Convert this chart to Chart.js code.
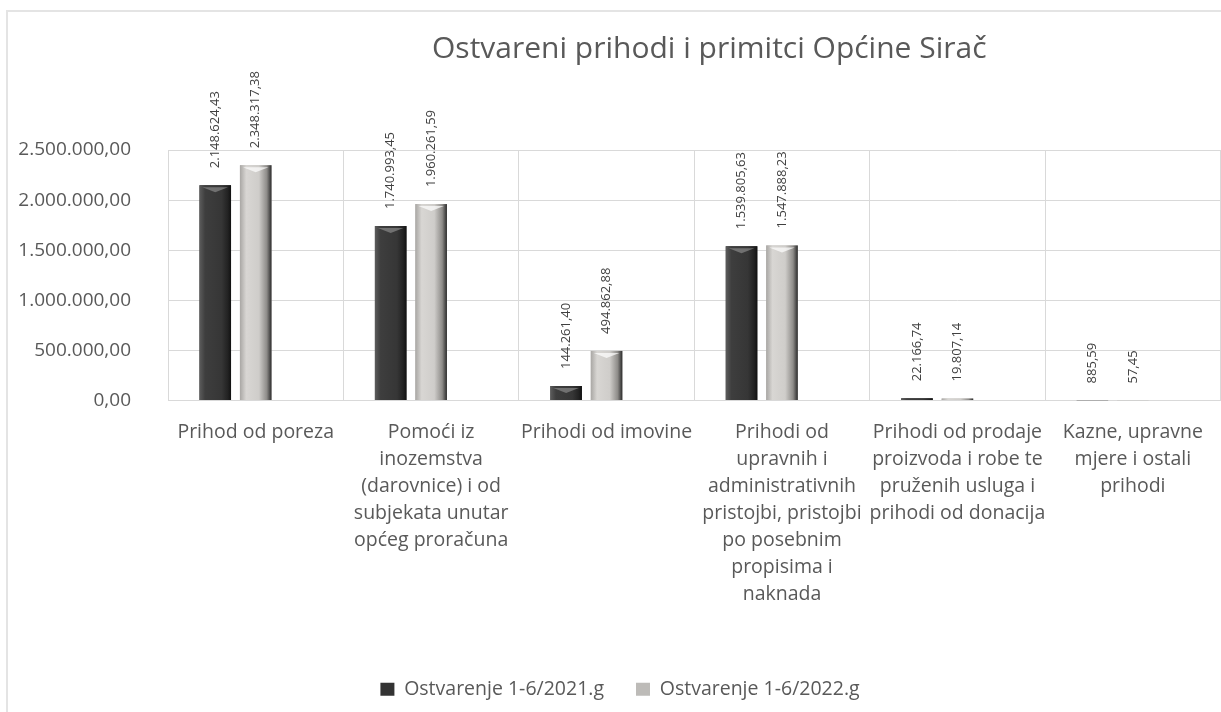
<!DOCTYPE html>
<html>
<head>
<meta charset="utf-8">
<script src="https://cdn.jsdelivr.net/npm/chart.js@4.4.0/dist/chart.umd.min.js"></script>
<style>
  body { margin: 0; background: #fff; overflow: hidden; }
  .frame { position: absolute; left: 6px; top: 10px; width: 1260px; height: 760px; border: 2px solid #e4e4e4; }
  #myChart { position: absolute; left: 0; top: 0; }
</style>
</head>
<body>
<div class="frame"></div>
<canvas id="myChart" width="1221" height="712"></canvas>
<script>
const title = 'Ostvareni prihodi i primitci Općine Sirač'
const categories = [
    'Prihod od poreza',
    ['Pomoći iz', 'inozemstva', '(darovnice) i od', 'subjekata unutar', 'općeg proračuna'],
    'Prihodi od imovine',
    ['Prihodi od', 'upravnih i', 'administrativnih', 'pristojbi, pristojbi', 'po posebnim', 'propisima i', 'naknada'],
    ['Prihodi od prodaje', 'proizvoda i robe te', 'pruženih usluga i', 'prihodi od donacija'],
    ['Kazne, upravne', 'mjere i ostali', 'prihodi']
]
const seriesNames = ['Ostvarenje 1-6/2021.g', 'Ostvarenje 1-6/2022.g']
const values2021 = [2148624.43, 1740993.45, 144261.40, 1539805.63, 22166.74, 885.59]
const values2022 = [2348317.38, 1960261.59, 494862.88, 1547888.23, 19807.14, 57.45]
const yTicks = [0, 500000, 1000000, 1500000, 2000000, 2500000]

const textColor = '#595959'
const gridColor = '#d9d9d9'

//Formata número no estilo hr-HR (2.500.000,00)
function fmt(v) {
    const parts = Number(v).toFixed(2).split('.')
    return parts[0].replace(/\B(?=(\d{3})+(?!\d))/g, '.') + ',' + parts[1]
}

//Título desenhado sobre a área do gráfico
const titlePlugin = {
    id: 'titlePlugin',
    afterDraw(chart) {
        const ctx = chart.ctx
        const a = chart.chartArea
        ctx.save()
        ctx.font = '30px "Open Sans"'
        ctx.fillStyle = textColor
        ctx.textAlign = 'center'
        ctx.textBaseline = 'middle'
        ctx.fillText(title, (a.left + a.right) / 2 + 15, 49)
        ctx.restore()
    }
}

//Desloca um pouco a legenda para a direita (como no original)
const legendShift = {
    id: 'legendShift',
    afterLayout(chart) {
        if (chart.legend) chart.legend.left += 19
    }
}

//Efeito de cilindro nas barras
const shadePlugin = {
    id: 'shadePlugin',
    afterDatasetDraw(chart, args) {
        const i = args.index
        if (i > 1) return
        const ctx = chart.ctx
        const stops = i === 0
            ? [[0, '#5c5c5c'], [0.18, '#3e3e3e'], [0.7, '#363636'], [0.9, '#222'], [1, '#111']]
            : [[0, '#a9a7a4'], [0.2, '#d8d6d3'], [0.6, '#cfcdca'], [0.85, '#8e8c89'], [1, '#2b2b2b']]
        args.meta.data.forEach(el => {
            const p = el.getProps(['x', 'y', 'base', 'width'], true)
            const h = p.base - p.y
            if (h < 1) return
            const left = p.x - p.width / 2
            const g = ctx.createLinearGradient(left, 0, left + p.width, 0)
            stops.forEach(s => g.addColorStop(s[0], s[1]))
            ctx.save()
            ctx.fillStyle = g
            ctx.fillRect(left, p.y, p.width, h)
            if (h > 8) {
                ctx.fillStyle = i === 0 ? 'rgba(150,150,150,0.6)' : 'rgba(255,255,255,0.7)'
                ctx.beginPath()
                ctx.moveTo(left + 3, p.y + 2)
                ctx.lineTo(left + p.width - 3, p.y + 2)
                ctx.lineTo(p.x, p.y + 7)
                ctx.closePath()
                ctx.fill()
            }
            ctx.restore()
        })
    }
}

//Rótulos de valor rotacionados acima das barras
const valueLabels = {
    id: 'valueLabels',
    afterDatasetsDraw(chart) {
        const ctx = chart.ctx
        ctx.save()
        ctx.font = '13px "Open Sans"'
        ctx.fillStyle = '#404040'
        ctx.textAlign = 'left'
        ctx.textBaseline = 'middle'
        for (let d = 0; d < 2; d++) {
            const meta = chart.getDatasetMeta(d)
            meta.data.forEach((el, j) => {
                ctx.save()
                ctx.translate(el.x, el.y - 17)
                ctx.rotate(-Math.PI / 2)
                ctx.fillText(fmt(chart.data.datasets[d].data[j]), 0, 0)
                ctx.restore()
            })
        }
        ctx.restore()
    }
}

function createChart() {
    const ctx = document.getElementById('myChart').getContext('2d')
    const barOpts = { categoryPercentage: 0.692, barPercentage: 0.78 }
    return new Chart(ctx, {
        type: 'bar',
        data: {
            labels: categories,
            datasets: [{
                label: seriesNames[0],
                data: values2021,
                backgroundColor: '#333333',
                ...barOpts
            }, {
                label: seriesNames[1],
                data: values2022,
                backgroundColor: '#bdbbb8',
                ...barOpts
            }, {
                // série vazia só para empurrar as barras para a esquerda
                label: '',
                data: categories.map(() => null),
                backgroundColor: 'rgba(0,0,0,0)',
                ...barOpts
            }]
        },
        options: {
            responsive: false,
            animation: false,
            devicePixelRatio: 1,
            layout: { padding: { top: 150, left: 0, right: 0, bottom: 3 } },
            plugins: {
                title: { display: false },
                tooltip: { enabled: false },
                legend: {
                    position: 'bottom',
                    labels: {
                        color: textColor,
                        font: { family: 'Open Sans', size: 19.5 },
                        boxWidth: 14,
                        boxHeight: 13,
                        padding: 32,
                        filter: item => item.text !== ''
                    }
                }
            },
            scales: {
                x: {
                    grid: { color: gridColor, drawTicks: false, offset: true },
                    border: { color: gridColor },
                    ticks: {
                        color: textColor,
                        font: { family: 'Open Sans', size: 19.5, lineHeight: 1.385 },
                        padding: 18,
                        maxRotation: 0,
                        autoSkip: false
                    },
                    afterFit(scale) { scale.height = 247 }
                },
                y: {
                    min: 0,
                    max: 2500000,
                    grid: { color: gridColor, drawTicks: false },
                    border: { color: gridColor },
                    afterBuildTicks(scale) { scale.ticks = yTicks.map(v => ({ value: v })) },
                    ticks: {
                        color: textColor,
                        font: { family: 'Open Sans', size: 19 },
                        padding: 37,
                        callback: v => fmt(v)
                    },
                    afterFit(scale) { scale.width = 168 }
                }
            }
        },
        plugins: [legendShift, shadePlugin, valueLabels, titlePlugin]
    })
}

createChart()
</script>
</body>
</html>
